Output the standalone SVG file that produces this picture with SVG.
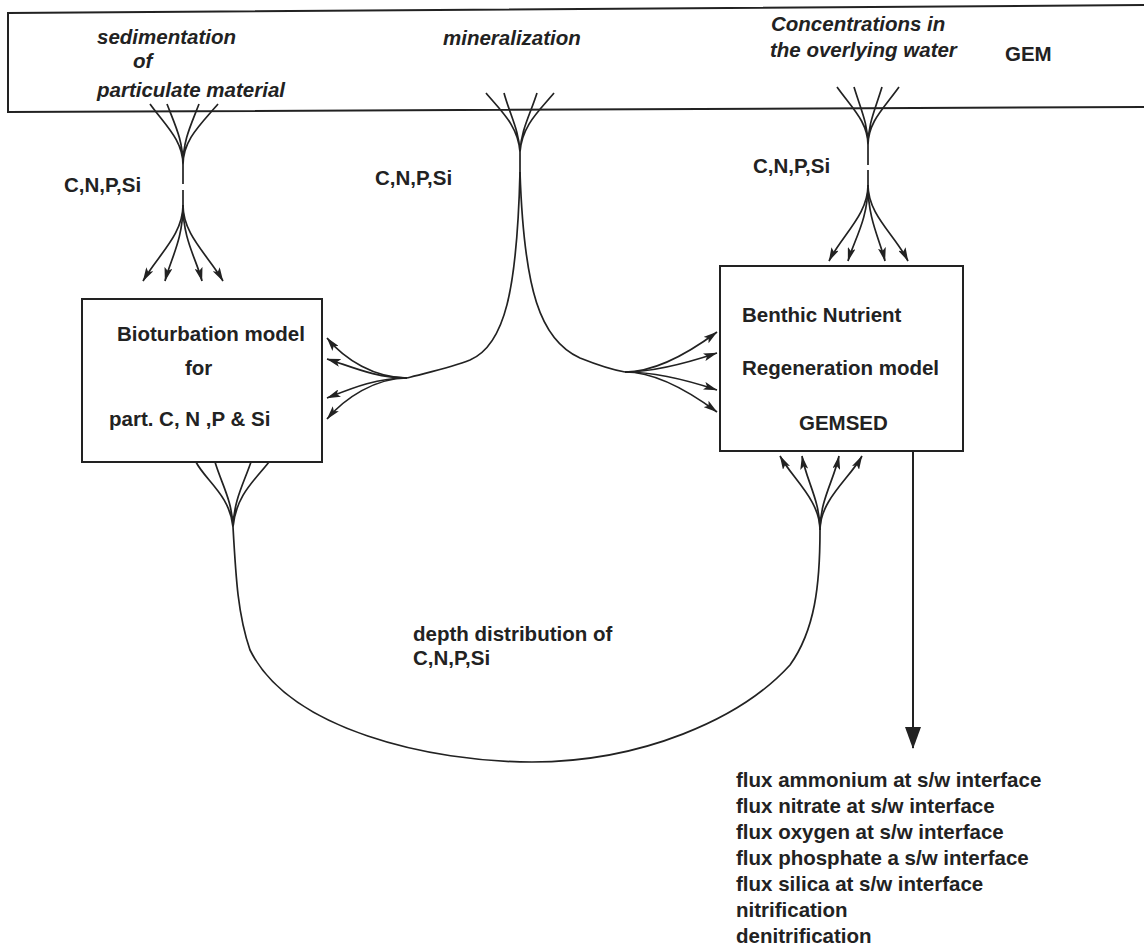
<svg xmlns="http://www.w3.org/2000/svg" width="1144" height="947" viewBox="0 0 1144 947">
<style>
.t{font-family:"Liberation Sans",Arial,sans-serif;font-weight:bold;font-size:20.5px;fill:#222}
.i{font-style:italic}
.box{fill:none;stroke:#222;stroke-width:2}
.ln{fill:none;stroke:#222;stroke-width:1.7}
.ar{fill:none;stroke:#222;stroke-width:1.7;marker-end:url(#ah)}
</style>
<defs>
<marker id="ah" viewBox="0 0 14 8" refX="13.5" refY="4" markerWidth="14" markerHeight="8" orient="auto" markerUnits="userSpaceOnUse">
<path d="M0,0 L14,4 L0,8 L3,4 z" fill="#222"/>
</marker>
<marker id="big" viewBox="0 0 22 16" refX="21" refY="8" markerWidth="22" markerHeight="16" orient="auto" markerUnits="userSpaceOnUse">
<path d="M0,0 L22,8 L0,16 z" fill="#222"/>
</marker>
</defs>
<rect width="1144" height="947" fill="#fff"/>

<g id="gem">
<path class="box" d="M1144,5 L8,13 L8,112 L1144,107"/>
<text class="t i" x="97" y="44">sedimentation</text>
<text class="t i" x="133" y="68">of</text>
<text class="t i" x="97" y="97">particulate material</text>
<text class="t i" x="443" y="45">mineralization</text>
<text class="t i" x="771" y="31">Concentrations in</text>
<text class="t i" x="770" y="57">the overlying water</text>
<text class="t" x="1005" y="61">GEM</text>
</g>

<g id="bioturbation">
<rect class="box" x="82" y="299" width="240" height="163"/>
<text class="t" x="117" y="341">Bioturbation model</text>
<text class="t" x="185" y="375">for</text>
<text class="t" x="109" y="426">part. C, N ,P &amp; Si</text>
</g>

<g id="gemsed">
<rect class="box" x="720" y="266" width="243" height="185"/>
<text class="t" x="742" y="322">Benthic Nutrient</text>
<text class="t" x="742" y="375">Regeneration model</text>
<text class="t" x="799" y="430">GEMSED</text>
</g>

<g id="labels">
<text class="t" x="64" y="192">C,N,P,Si</text>
<text class="t" x="375" y="185">C,N,P,Si</text>
<text class="t" x="753" y="173">C,N,P,Si</text>
<text class="t" x="413" y="641">depth distribution of</text>
<text class="t" x="413" y="665">C,N,P,Si</text>
</g>

<g id="outputs">
<text class="t" x="736" y="787">flux ammonium at s/w interface</text>
<text class="t" x="736" y="813">flux nitrate at s/w interface</text>
<text class="t" x="736" y="839">flux oxygen at s/w interface</text>
<text class="t" x="736" y="865">flux phosphate a s/w interface</text>
<text class="t" x="736" y="891">flux silica at s/w interface</text>
<text class="t" x="736" y="917">nitrification</text>
<text class="t" x="736" y="943">denitrification</text>
</g>

<g id="connectors">
<!-- sedimentation fan -->
<path class="ln" d="M150,104 C165,125 183,140 183,165 M167,104 C175,125 183,140 183,165 M199,104 C191,125 183,140 183,165 M218,104 C200,125 183,140 183,165 M183,165 L183,184"/>
<path class="ln" d="M183,190 L183,205"/>
<path class="ar" d="M183,205 C183,235 158,255 143,281"/>
<path class="ar" d="M183,205 C183,240 171,258 165,281"/>
<path class="ar" d="M183,205 C183,240 196,258 202,281"/>
<path class="ar" d="M183,205 C183,235 208,255 223,281"/>

<!-- mineralization -->
<path class="ln" d="M486,93 C500,110 518,125 520,152 M504,93 C510,115 519,130 520,152 M537,93 C530,115 521,130 520,152 M554,93 C540,110 522,125 520,152 M520,152 L520,172"/>
<path class="ln" d="M520,172 C517,290 505,345 470,360 C450,368 425,373 407,378"/>
<path class="ln" d="M520,172 C524,290 540,340 580,358 C600,366 613,370 625,372"/>
<path class="ar" d="M407,378 C375,378 345,360 327,338"/>
<path class="ar" d="M407,378 C375,378 350,366 327,359"/>
<path class="ar" d="M407,378 C375,378 350,389 327,398"/>
<path class="ar" d="M407,378 C375,378 345,398 327,419"/>
<path class="ar" d="M625,372 C655,372 690,352 717,332"/>
<path class="ar" d="M625,372 C655,372 690,362 717,353"/>
<path class="ar" d="M625,372 C655,372 690,381 717,390"/>
<path class="ar" d="M625,372 C655,372 690,392 717,412"/>

<!-- concentrations fan -->
<path class="ln" d="M837,87 C852,108 868,122 868,145 M854,87 C861,110 868,124 868,145 M882,87 C875,110 868,124 868,145 M899,87 C884,108 868,122 868,145 M868,145 L868,165"/>
<path class="ln" d="M868,170 L868,185"/>
<path class="ar" d="M868,185 C868,215 842,235 829,261"/>
<path class="ar" d="M868,185 C868,220 854,240 848,261"/>
<path class="ar" d="M868,185 C868,220 880,240 885,261"/>
<path class="ar" d="M868,185 C868,215 895,235 908,261"/>

<!-- depth distribution loop -->
<path class="ln" d="M196,462 C205,480 230,495 233,527 M215,462 C222,485 232,500 233,527 M251,462 C243,485 234,500 233,527 M269,462 C255,480 236,495 233,527"/>
<path class="ln" d="M233,527 C236,580 238,615 250,650 C290,730 430,762 532,762 C640,762 740,720 790,665 C815,630 820,585 820,530"/>
<path class="ar" d="M820,530 C820,500 792,478 780,456"/>
<path class="ar" d="M820,530 C820,500 806,480 802,456"/>
<path class="ar" d="M820,530 C820,500 834,480 839,456"/>
<path class="ar" d="M820,530 C820,500 850,478 862,456"/>

<!-- output arrow -->
<path d="M913,451 L913,748" fill="none" stroke="#222" stroke-width="2" marker-end="url(#big)"/>
</g>
</svg>
